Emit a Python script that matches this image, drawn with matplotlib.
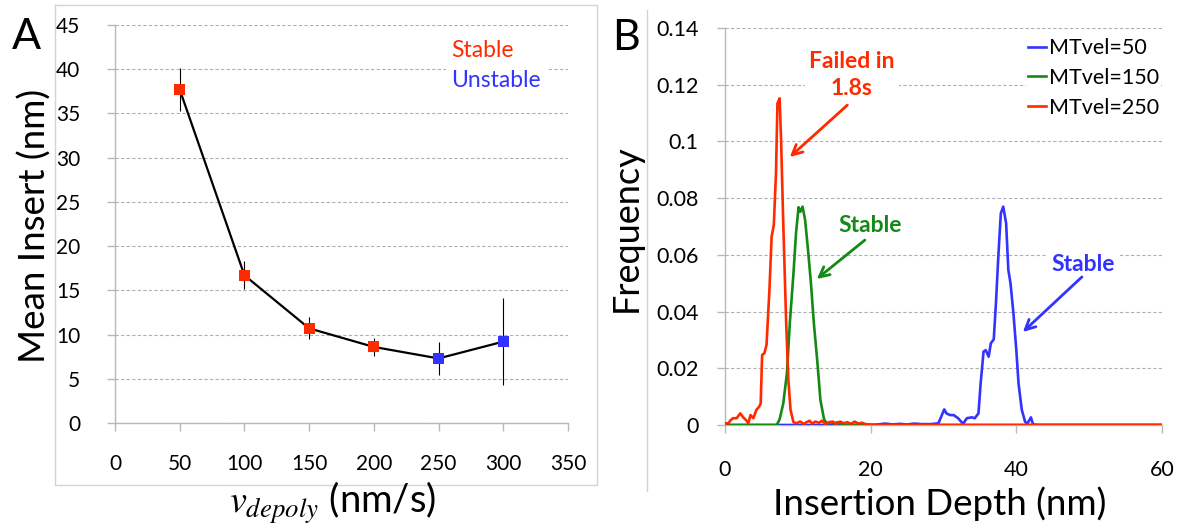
import matplotlib
matplotlib.use("Agg")
import matplotlib.pyplot as plt
from matplotlib.lines import Line2D
from matplotlib.ticker import FuncFormatter

plt.rcParams["font.family"] = ["Lato", "DejaVu Sans"]
plt.rcParams["mathtext.fontset"] = "stix"

# panel A data
vel = [50, 100, 150, 200, 250, 300]
mean_insert = [37.7, 16.7, 10.7, 8.6, 7.3, 9.2]
insert_err = [2.4, 1.6, 1.25, 1.0, 1.9, 4.9]
stable = [True, True, True, True, False, False]

# panel B data
x_50 = [0, 20, 21, 22, 23, 24, 25, 26, 27, 28.2, 29.3, 30.1, 30.4, 30.9, 31.4, 32.0,
        32.7, 33.2, 33.9, 34.3, 34.8, 35.1, 35.5, 35.8, 36.2, 36.5, 36.9, 37.2, 37.55,
        37.87, 38.2, 38.6, 38.9, 39.2, 39.6, 40.0, 40.3, 40.75, 41.2, 41.5, 42.0, 42.3,
        43, 60]
y_50 = [0, 0, 0.0002, 0.0005, 0.0002, 0.0004, 0.0002, 0.0005, 0.0003, 0.0003, 0.0006,
        0.0055, 0.0041, 0.0035, 0.0035, 0.0024, 0.0004, 0.0024, 0.0027, 0.0024, 0.0041,
        0.0147, 0.0259, 0.0264, 0.0241, 0.0288, 0.0302, 0.0429, 0.0605, 0.0746, 0.077,
        0.0711, 0.0547, 0.05, 0.0394, 0.0264, 0.0147, 0.0053, 0.0012, 0.0004, 0.0027,
        0.0002, 0, 0]

x_150 = [0, 7.1, 7.5, 8.0, 8.5, 8.9, 9.4, 9.75, 10.1, 10.35, 10.65, 11.0, 11.4, 11.8,
         12.2, 12.7, 13.1, 13.6, 14.0, 14.5, 15.0, 15.5, 16.0, 16.5, 60]
y_150 = [0, 0, 0.002, 0.0076, 0.0182, 0.0359, 0.0535, 0.0676, 0.0768, 0.0752, 0.077,
         0.0723, 0.0617, 0.05, 0.0359, 0.0217, 0.0088, 0.002, 0.0005, 0.001, 0.0005,
         0.001, 0.0003, 0, 0]

x_250 = [0, 0.5, 0.7, 1.1, 1.6, 2.1, 2.5, 2.9, 3.2, 3.5, 3.9, 4.3, 4.7, 4.9, 5.1, 5.4,
         5.7, 6.1, 6.4, 6.7, 7.0, 7.2, 7.5, 7.7, 8.0, 8.4, 8.7, 9.0, 9.4, 9.8, 10.3,
         10.8, 11.2, 11.6, 12.0, 12.4, 12.9, 13.3, 13.8, 14.3, 14.8, 15.3, 15.8, 16.3,
         16.8, 17.3, 17.8, 18.3, 18.8, 19.3, 19.8, 20.5, 60]
y_250 = [0.0006, 0.0006, 0.0015, 0.0024, 0.0024, 0.0041, 0.0027, 0.0017, 0.0006, 0.0035,
         0.0024, 0.0053, 0.0065, 0.0076, 0.0247, 0.0253, 0.0282, 0.0476, 0.0664, 0.0705,
         0.0887, 0.1134, 0.1152, 0.1005, 0.0711, 0.0359, 0.0159, 0.0053, 0.0010, 0.0006,
         0.0012, 0.0004, 0.0010, 0.0015, 0.0005, 0.0012, 0.0008, 0.0015, 0.0004, 0.0010,
         0.0012, 0.0004, 0.0012, 0.0006, 0.0010, 0.0004, 0.0012, 0.0005, 0.0008, 0.0003,
         0.0002, 0, 0]

RED = "#ff2a00"
BLUE = "#3333ff"
GREEN = "#138a13"
AXC = "#b8b8b8"
GRIDC = "#b0b0b0"

W, H = 1191, 529
fig = plt.figure(figsize=(W / 100, H / 100), dpi=100)


def px_axes(x0, x1, ytop, ybot):
    return fig.add_axes([x0 / W, 1 - ybot / H, (x1 - x0) / W, (ybot - ytop) / H])


def style_axes(ax, fs, xpad, ypad):
    for s in ["top", "right"]:
        ax.spines[s].set_visible(False)
    for s in ["left", "bottom"]:
        ax.spines[s].set_color(AXC)
        ax.spines[s].set_linewidth(1.0)
    ax.tick_params(axis="both", direction="out", length=6, width=1.0, color=AXC,
                   labelsize=fs, labelcolor="black")
    ax.tick_params(axis="x", pad=xpad)
    ax.tick_params(axis="y", pad=ypad)
    ax.yaxis.grid(True, linestyle=(0, (3, 2)), color=GRIDC, linewidth=0.8)
    ax.set_axisbelow(True)


# frames
fig.add_artist(Line2D([55 / W, 597 / W, 597 / W, 55 / W, 55 / W],
                      [1 - 5 / H, 1 - 5 / H, 1 - 485 / H, 1 - 485 / H, 1 - 5 / H],
                      transform=fig.transFigure, color="#d4d4d4", lw=1.0))
fig.add_artist(Line2D([647 / W, 647 / W], [1 - 10 / H, 1 - 491 / H],
                      transform=fig.transFigure, color="#d4d4d4", lw=1.0))

# ---------------- panel A ----------------
axA = px_axes(115, 568, 25, 423)
style_axes(axA, 15, 16, 19)
axA.set_xlim(0, 350)
axA.set_ylim(0, 45)
axA.set_xticks(range(0, 351, 50))
axA.set_yticks(range(0, 46, 5))
axA.errorbar(vel, mean_insert, yerr=insert_err, fmt="none", ecolor="black",
             elinewidth=0.8, capsize=0, zorder=2)
axA.plot(vel, mean_insert, color="black", lw=1.6, zorder=3)
cols = [RED if s else BLUE for s in stable]
axA.scatter(vel, mean_insert, marker="s", s=62, c=cols, zorder=4, linewidths=0)
axA.text(260, 42.1, "Stable", color=RED, fontsize=16.5, va="center", ha="left",
         bbox=dict(facecolor="white", edgecolor="none", pad=4))
axA.text(260, 38.7, "Unstable", color=BLUE, fontsize=16.5, va="center", ha="left",
         bbox=dict(facecolor="white", edgecolor="none", pad=4))

fig.text(35 / W, 1 - 226 / H, "Mean Insert (nm)", rotation=90, fontsize=26.5,
         ha="center", va="center")
fig.text(333 / W, 1 - 503 / H, r"$v_{depoly}$ (nm/s)", fontsize=27.5,
         ha="center", va="center")
fig.text(26 / W, 1 - 37 / H, "A", fontsize=31, ha="center", va="center")

# ---------------- panel B ----------------
axB = px_axes(725, 1162, 28, 425)
style_axes(axB, 15.5, 19, 13)
axB.set_xlim(0, 60)
axB.set_ylim(0, 0.14)
axB.set_xticks([0, 20, 40, 60])
axB.set_yticks([0, 0.02, 0.04, 0.06, 0.08, 0.1, 0.12, 0.14])
axB.yaxis.set_major_formatter(FuncFormatter(lambda v, p: "%g" % round(v, 2)))

axB.plot(x_50, y_50, color=BLUE, lw=1.9, label="MTvel=50", zorder=3)
axB.plot(x_150, y_150, color=GREEN, lw=1.9, label="MTvel=150", zorder=3)
axB.plot(x_250, y_250, color=RED, lw=1.9, label="MTvel=250", zorder=3)

leg = axB.legend(loc="upper left", bbox_to_anchor=(1026 / W, 1 - 36 / H),
                 bbox_transform=fig.transFigure, fontsize=15.5, handlelength=0.85,
                 handletextpad=0.1, labelspacing=0.45, borderpad=0.1,
                 borderaxespad=0, frameon=True, fancybox=False)
leg.get_frame().set_facecolor("white")
leg.get_frame().set_edgecolor("none")
leg.get_frame().set_alpha(1)

box = dict(facecolor="white", edgecolor="none", pad=3)
axB.text(17.4, 0.1234, "Failed in\n1.8s", color=RED, fontsize=16.5, fontweight="bold",
         ha="center", va="center", linespacing=1.35, bbox=box, zorder=5)
axB.text(19.9, 0.0705, "Stable", color=GREEN, fontsize=16.5, fontweight="bold",
         ha="center", va="center", bbox=box, zorder=5)
axB.text(49.2, 0.0566, "Stable", color=BLUE, fontsize=16.5, fontweight="bold",
         ha="center", va="center", bbox=box, zorder=5)

arrows = [((8.9, 0.0945), (16.8, 0.1128), RED),
          ((12.6, 0.0515), (19.2, 0.0652), GREEN),
          ((40.9, 0.0328), (49.0, 0.0522), BLUE)]
for head, tail, c in arrows:
    axB.annotate("", xy=head, xytext=tail,
                 arrowprops=dict(arrowstyle="->", color=c, lw=2, mutation_scale=18,
                                 shrinkA=0, shrinkB=0), zorder=6)

fig.text(626 / W, 1 - 228 / H, "Frequency", rotation=90, fontsize=26,
         ha="center", va="center")
fig.text(940 / W, 1 - 504 / H, "Insertion Depth (nm)", fontsize=26.5,
         ha="center", va="center")
fig.text(626 / W, 1 - 38 / H, "B", fontsize=31, ha="center", va="center")

fig.savefig("out.png", dpi=100)
